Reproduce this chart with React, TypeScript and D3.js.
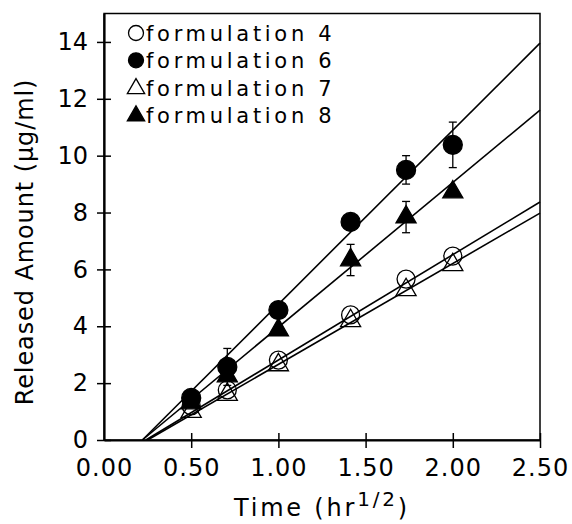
import React, { useRef, useEffect } from "react";
import * as d3 from "d3";

// sampling times (hr^1/2)
const times = [0.5, 0.707, 1.0, 1.414, 1.732, 2.0];
const form4 = [1.2, 1.76, 2.81, 4.4, 5.66, 6.47];
const form6 = [1.48, 2.57, 4.57, 7.67, 9.5, 10.38];
const form7 = [1.0, 1.6, 2.64, 4.19, 5.28, 6.16];
const form8 = [1.3, 2.25, 3.87, 6.33, 7.84, 8.72];
const form4Err = [0, 0, 0, 0, 0, 0];
const form6Err = [0, 0.65, 0, 0, 0.5, 0.8];
const form7Err = [0, 0, 0, 0, 0, 0];
const form8Err = [0, 0, 0, 0.55, 0.55, 0];

// regression lines: x-intercept and value at the right edge (2.5)
const fitStart = [0.24, 0.22, 0.25, 0.22];
const fitEnd = [8.37, 13.96, 7.98, 11.6];

const seriesNames = ["formulation 4", "formulation 6", "formulation 7", "formulation 8"];
const xTicks = [0, 0.5, 1.0, 1.5, 2.0, 2.5];
const yTicks = [0, 2, 4, 6, 8, 10, 12, 14];

const FONT = "DejaVu Sans, Verdana, sans-serif";

const App = () => {
  const svgRef = useRef<SVGSVGElement>(null);

  useEffect(() => {
    const svg = d3.select(svgRef.current);
    svg.selectAll("*").remove();

    const x = d3.scaleLinear().domain([0, 2.5]).range([104, 540]);
    const y = d3.scaleLinear().domain([0, 15]).range([440, 13.5]);

    const series = [
      { name: seriesNames[0], values: form4, err: form4Err, shape: "circle", filled: false },
      { name: seriesNames[1], values: form6, err: form6Err, shape: "circle", filled: true },
      { name: seriesNames[2], values: form7, err: form7Err, shape: "triangle", filled: false },
      { name: seriesNames[3], values: form8, err: form8Err, shape: "triangle", filled: true },
    ];

    // frame
    svg
      .append("rect")
      .attr("x", x(0))
      .attr("y", y(15))
      .attr("width", x(2.5) - x(0))
      .attr("height", y(0) - y(15))
      .attr("fill", "none")
      .attr("stroke", "#000")
      .attr("stroke-width", 1.5);

    // x axis
    const gx = svg
      .append("g")
      .attr("transform", `translate(0,${y(0)})`)
      .call(
        d3
          .axisBottom(x)
          .tickValues(xTicks)
          .tickSize(0)
          .tickPadding(19)
          .tickFormat((d) => d3.format(".2f")(d as number))
      );
    gx.select(".domain").attr("stroke-width", 2.2);
    gx.selectAll(".tick")
      .filter((d) => d !== 0)
      .append("line")
      .attr("y1", -7)
      .attr("y2", 8)
      .attr("stroke", "#000")
      .attr("stroke-width", 1.5);
    gx.selectAll("text")
      .attr("font-family", FONT)
      .attr("font-size", 24)
      .attr("letter-spacing", 1)
      .attr("fill", "#000");

    // y axis
    const gy = svg
      .append("g")
      .attr("transform", `translate(${x(0)},0)`)
      .call(d3.axisLeft(y).tickValues(yTicks).tickSize(0).tickPadding(16));
    gy.select(".domain").attr("stroke-width", 2.2);
    gy.selectAll(".tick")
      .append("line")
      .attr("x1", -7)
      .attr("x2", 7)
      .attr("stroke", "#000")
      .attr("stroke-width", 1.5);
    gy.selectAll("text")
      .attr("font-family", FONT)
      .attr("font-size", 24)
      .attr("fill", "#000");

    // regression lines
    series.forEach((s, i) => {
      svg
        .append("line")
        .attr("x1", x(fitStart[i]))
        .attr("y1", y(0))
        .attr("x2", x(2.5))
        .attr("y2", y(fitEnd[i]))
        .attr("stroke", "#000")
        .attr("stroke-width", 1.6);
    });

    const tri = d3.symbol().type(d3.symbolTriangle);

    // error bars and markers
    series.forEach((s) => {
      const g = svg.append("g");
      times.forEach((t, j) => {
        const v = s.values[j];
        const e = s.err[j];
        if (e > 0) {
          g.append("line")
            .attr("x1", x(t))
            .attr("x2", x(t))
            .attr("y1", y(v - e))
            .attr("y2", y(v + e))
            .attr("stroke", "#000")
            .attr("stroke-width", 1.3);
          [v - e, v + e].forEach((c) => {
            g.append("line")
              .attr("x1", x(t) - 4)
              .attr("x2", x(t) + 4)
              .attr("y1", y(c))
              .attr("y2", y(c))
              .attr("stroke", "#000")
              .attr("stroke-width", 1.3);
          });
        }
        if (s.shape === "circle") {
          g.append("circle")
            .attr("cx", x(t))
            .attr("cy", y(v))
            .attr("r", s.filled ? 9.5 : 9)
            .attr("fill", s.filled ? "#000" : "none")
            .attr("stroke", "#000")
            .attr("stroke-width", 1.3);
        } else {
          g.append("path")
            .attr("d", tri.size(175)())
            .attr("transform", `translate(${x(t)},${y(v)})`)
            .attr("fill", s.filled ? "#000" : "none")
            .attr("stroke", "#000")
            .attr("stroke-width", 1.3);
        }
      });
    });

    // legend
    const legend = svg.append("g");
    series.forEach((s, i) => {
      const cy = 33 + i * 27.3;
      if (s.shape === "circle") {
        legend
          .append("circle")
          .attr("cx", 136)
          .attr("cy", cy)
          .attr("r", 7.5)
          .attr("fill", s.filled ? "#000" : "none")
          .attr("stroke", "#000")
          .attr("stroke-width", 1.3);
      } else {
        legend
          .append("path")
          .attr("d", tri.size(130)())
          .attr("transform", `translate(136,${cy + 1})`)
          .attr("fill", s.filled ? "#000" : "none")
          .attr("stroke", "#000")
          .attr("stroke-width", 1.3);
      }
      legend
        .append("text")
        .attr("x", 146)
        .attr("y", cy + 8)
        .attr("font-family", FONT)
        .attr("font-size", 21)
        .attr("letter-spacing", 3.7)
        .text(s.name);
    });

    // axis titles
    svg
      .append("text")
      .attr("transform", `translate(33,242) rotate(-90)`)
      .attr("text-anchor", "middle")
      .attr("font-family", FONT)
      .attr("font-size", 24)
      .attr("letter-spacing", 0.9)
      .text("Released Amount (\u03bcg/ml)");

    const xt = svg
      .append("text")
      .attr("x", 234)
      .attr("y", 516)
      .attr("font-family", FONT)
      .attr("font-size", 24)
      .attr("letter-spacing", 2.8);
    xt.append("tspan").text("Time (hr");
    xt.append("tspan").attr("dy", -10).attr("font-size", 20).text("1/2");
    xt.append("tspan").attr("dy", 10).text(")");
  }, []);

  return (
    <svg
      ref={svgRef}
      width={572}
      height={524}
      style={{ position: "absolute", left: 0, top: 0, background: "#fff" }}
    ></svg>
  );
};

export default App;
